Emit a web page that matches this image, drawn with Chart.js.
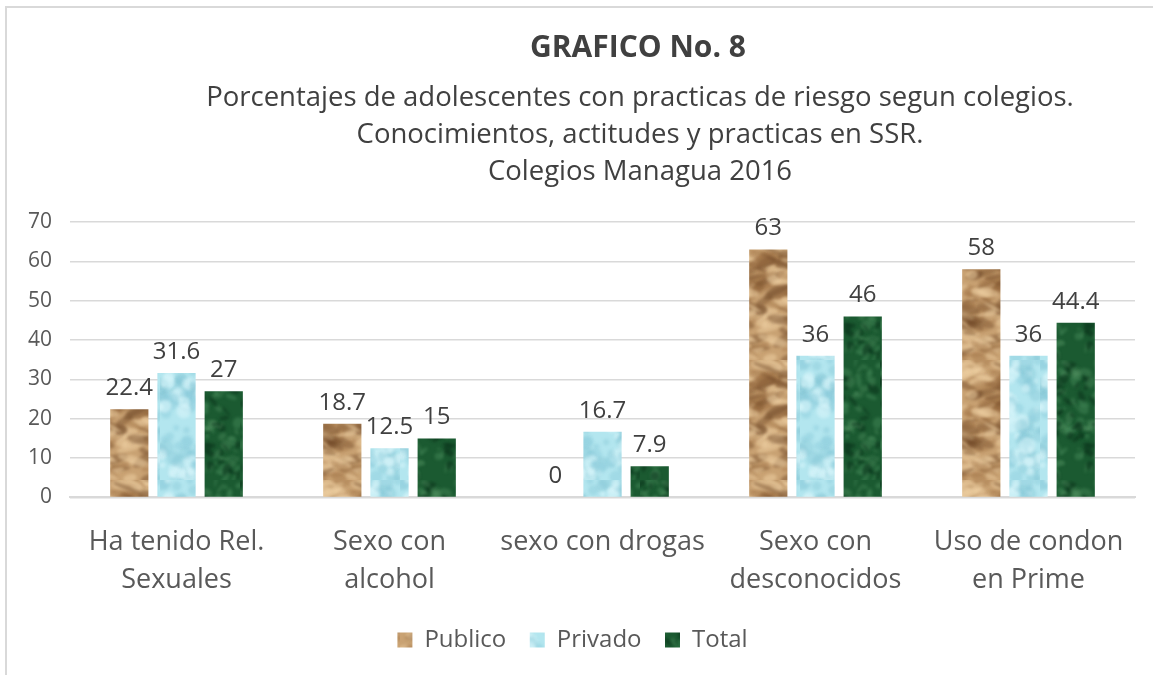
<!DOCTYPE html>
<html>
<head>
<meta charset="utf-8">
<title>Grafico No. 8</title>
<script src="https://cdn.jsdelivr.net/npm/chart.js@4.4.1/dist/chart.umd.min.js"></script>
<style>
  html, body { margin: 0; padding: 0; background: #fff; }
  #wrap { width: 1153px; height: 675px; position: relative; }
</style>
</head>
<body>
<div id="wrap"><canvas id="mycanvas"></canvas></div>
<script>
// categorias y porcentajes por tipo de colegio
var categorias = [
  ["Ha tenido Rel.", "Sexuales"],
  ["Sexo con", "alcohol"],
  "sexo con drogas",
  ["Sexo con", "desconocidos"],
  ["Uso de condon", "en Prime"]
];
var publico = [22.4, 18.7, 0, 63, 58];
var privado = [31.6, 12.5, 16.7, 36, 36];
var total = [27, 15, 7.9, 46, 44.4];
var ticksY = [0, 10, 20, 30, 40, 50, 60, 70];

var titulo = "GRAFICO No. 8";
var subtitulo = [
  "Porcentajes de adolescentes con practicas de riesgo segun colegios.",
  "Conocimientos, actitudes y practicas en SSR.",
  "Colegios Managua 2016"
];

var FONT = "'Open Sans', 'Noto Sans', sans-serif";

// pequeño generador para las texturas de relleno
function lcg(seed) {
  var s = seed;
  return function() {
    s = (s * 1664525 + 1013904223) % 4294967296;
    return s / 4294967296;
  };
}

function textura(base, manchas, seed, tipo) {
  var c = document.createElement("canvas");
  c.width = 80; c.height = 120;
  var g = c.getContext("2d");
  g.fillStyle = base;
  g.fillRect(0, 0, c.width, c.height);
  var r = lcg(seed);
  g.filter = "blur(1.5px)";
  for (var i = 0; i < 160; i++) {
    var m = manchas[Math.floor(r() * manchas.length)];
    g.fillStyle = m;
    g.beginPath();
    var x = r() * c.width, y = r() * c.height;
    if (tipo === "madera") {
      g.ellipse(x, y, 5 + r() * 12, 1.5 + r() * 4, -0.6 + r() * 1.2, 0, Math.PI * 2);
    } else if (tipo === "agua") {
      g.arc(x, y, 2 + r() * 7, 0, Math.PI * 2);
    } else {
      g.ellipse(x, y, 1 + r() * 6, 1 + r() * 4, r() * 3, 0, Math.PI * 2);
    }
    g.fill();
  }
  return g.createPattern(c, "repeat");
}

var ctx = document.getElementById("mycanvas").getContext("2d");
var fillPublico = textura("#c9a273", ["rgba(110,72,38,0.45)", "rgba(236,205,160,0.55)", "rgba(160,115,70,0.4)"], 7, "madera");
var fillPrivado = textura("#b3e6ef", ["rgba(140,205,220,0.45)", "rgba(215,245,250,0.6)", "rgba(120,190,205,0.3)"], 13, "agua");
var fillTotal = textura("#1b5a31", ["rgba(70,140,90,0.45)", "rgba(10,50,25,0.55)", "rgba(95,160,110,0.3)"], 29, "marmol");

// titulo, marco exterior y valores sobre las barras
var extras = {
  id: "extras",
  afterDraw: function(chart) {
    var c = chart.ctx;
    c.save();
    c.strokeStyle = "#d9d9d9";
    c.lineWidth = 2;
    c.beginPath();
    c.moveTo(6, 675);
    c.lineTo(6, 7);
    c.lineTo(1153, 7);
    c.stroke();

    c.textAlign = "center";
    c.textBaseline = "middle";
    c.fillStyle = "#404040";
    c.font = "bold 30px " + FONT;
    c.fillText(titulo, 638, 48);
    c.font = "27.5px " + FONT;
    for (var i = 0; i < subtitulo.length; i++) {
      c.fillText(subtitulo[i], 640, 98 + i * 37);
    }

    c.font = "24px " + FONT;
    c.textBaseline = "bottom";
    chart.data.datasets.forEach(function(ds, di) {
      chart.getDatasetMeta(di).data.forEach(function(bar, j) {
        c.fillText(String(ds.data[j]), bar.x, bar.y - 9);
      });
    });
    c.restore();
  }
};

var chartdata = {
  labels: categorias,
  datasets: [
    { label: "Publico", data: publico, backgroundColor: fillPublico },
    { label: "Privado", data: privado, backgroundColor: fillPrivado },
    { label: "Total", data: total, backgroundColor: fillTotal }
  ]
};

var defaultLabels = Chart.defaults.plugins.legend.labels.generateLabels;

var LineGraph = new Chart(ctx, {
  type: "bar",
  data: chartdata,
  plugins: [extras],
  options: {
    responsive: true,
    maintainAspectRatio: false,
    animation: false,
    layout: { padding: { top: 222, left: 10, right: 18, bottom: 13 } },
    datasets: { bar: { categoryPercentage: 0.665, barPercentage: 0.81 } },
    plugins: {
      legend: {
        position: "bottom",
        labels: {
          boxWidth: 15, boxHeight: 15, padding: 11,
          color: "#595959",
          font: { family: FONT, size: 24 },
          // un poco mas de aire entre entradas
          generateLabels: function(chart) {
            var items = defaultLabels(chart);
            items.forEach(function(it, i) {
              if (i < items.length - 1) it.text = it.text + "  ";
            });
            return items;
          }
        }
      },
      tooltip: { enabled: false }
    },
    scales: {
      x: {
        grid: { display: false },
        border: { color: "#d9d9d9", width: 2 },
        ticks: {
          color: "#595959", padding: 18, maxRotation: 0, autoSkip: false,
          font: { family: FONT, size: 27, lineHeight: 1.4 }
        }
      },
      y: {
        min: 0, max: 70,
        afterBuildTicks: function(axis) {
          axis.ticks = ticksY.map(function(v) { return { value: v }; });
        },
        grid: { color: "#d9d9d9", lineWidth: 1.5, drawTicks: false },
        border: { display: false },
        ticks: {
          color: "#595959", padding: 18,
          font: { family: FONT, size: 21 }
        }
      }
    }
  }
});
</script>
</body>
</html>
